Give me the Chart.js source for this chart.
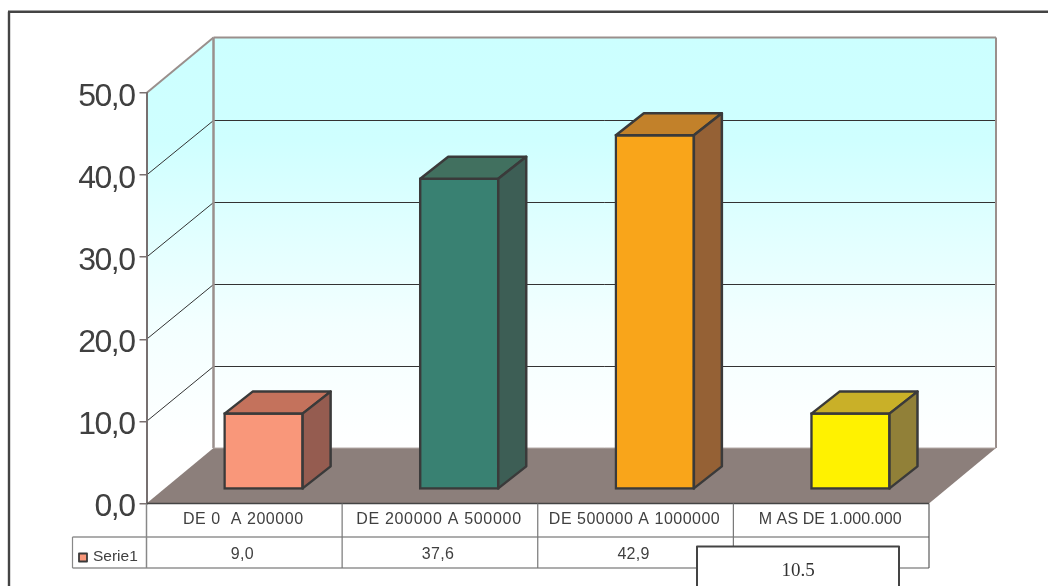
<!DOCTYPE html>
<html>
<head>
<meta charset="utf-8">
<title>Serie1</title>
<script src="https://cdn.jsdelivr.net/npm/chart.js@4"></script>
<style>
  html, body { margin: 0; padding: 0; background: #fff; overflow: hidden; }
  canvas { display: block; }
</style>
</head>
<body>
<canvas id="chart_1" width="1048" height="586"></canvas>
<script>
const categories = ['DE 0  A 200000', 'DE 200000 A 500000', 'DE 500000 A 1000000', 'M AS DE 1.000.000']
const serie_name = 'Serie1'
const serie_values = [9.0, 37.6, 42.9, 9.0]
const note_text = '10.5'

const front_colours = ['#F9977A', '#398172', '#F9A51A', '#FFF200']
const top_colours = ['#C4725C', '#41705F', '#C2812A', '#C9B028']
const side_colours = ['#955C50', '#3D5E55', '#956135', '#918038']

const wall_dx = 67, wall_dy = -55.5   // depth of the box
const bar_dx = 19.3, bar_dy = -17     // bars stand inside the box
const side_dx = 28, side_dy = -22     // depth of a bar
const edge_colour = '#3a3a3a'
const category_spacing = ['0.55px', '0.7px', '0.5px', '0.1px']  // the table text is unevenly tracked

function fmt(v) {
  return v.toFixed(1).replace('.', ',')
}

function poly(ctx, pts, fill, stroke, width) {
  ctx.beginPath()
  pts.forEach(function (p, i) { i ? ctx.lineTo(p[0], p[1]) : ctx.moveTo(p[0], p[1]) })
  ctx.closePath()
  if (fill) { ctx.fillStyle = fill; ctx.fill() }
  if (stroke) { ctx.strokeStyle = stroke; ctx.lineWidth = width; ctx.lineJoin = 'round'; ctx.stroke() }
}

function line(ctx, x1, y1, x2, y2, colour, width) {
  ctx.beginPath()
  ctx.moveTo(x1, y1)
  ctx.lineTo(x2, y2)
  ctx.strokeStyle = colour
  ctx.lineWidth = width
  ctx.stroke()
}

const box_plugin = {
  id: 'box_plugin',
  beforeDraw(chart) {
    const ctx = chart.ctx, a = chart.chartArea, y = chart.scales.y
    ctx.save()
    // outer frame
    line(ctx, 9, 586, 9, 11.7, '#444', 2.4)
    line(ctx, 8, 11.7, 1048, 11.7, '#444', 2.4)

    let grad = ctx.createLinearGradient(0, a.top + wall_dy, 0, a.bottom + wall_dy)
    grad.addColorStop(0, '#CCFFFF')
    grad.addColorStop(0.25, '#CFFFFF')
    grad.addColorStop(0.7, '#F3FFFF')
    grad.addColorStop(1, '#FFFFFF')
    // back wall and left wall
    poly(ctx, [[a.left + wall_dx, a.top + wall_dy], [a.right + wall_dx, a.top + wall_dy],
      [a.right + wall_dx, a.bottom + wall_dy], [a.left + wall_dx, a.bottom + wall_dy]], grad)
    poly(ctx, [[a.left, a.top], [a.left + wall_dx, a.top + wall_dy],
      [a.left + wall_dx, a.bottom + wall_dy], [a.left, a.bottom]], grad)
    // floor
    poly(ctx, [[a.left, a.bottom], [a.right, a.bottom],
      [a.right + wall_dx, a.bottom + wall_dy], [a.left + wall_dx, a.bottom + wall_dy]], '#8C7F7B')

    // grid lines on both walls
    y.ticks.forEach(function (t) {
      if (t.value == 0 || t.value == 50) return
      const py = Math.round(y.getPixelForValue(t.value) + wall_dy) + 0.5
      line(ctx, a.left, y.getPixelForValue(t.value), a.left + wall_dx, py, '#333', 1)
      line(ctx, a.left + wall_dx, py, a.right + wall_dx, py, '#333', 1)
    })

    // wall edges
    const edge = '#9A8F8C'
    line(ctx, a.left, a.top, a.left + wall_dx, a.top + wall_dy, edge, 2)
    line(ctx, a.left + wall_dx, a.top + wall_dy, a.right + wall_dx, a.top + wall_dy, edge, 2)
    line(ctx, a.right + wall_dx, a.top + wall_dy, a.right + wall_dx, a.bottom + wall_dy, edge, 2)
    line(ctx, a.left + wall_dx, a.top + wall_dy, a.left + wall_dx, a.bottom + wall_dy, edge, 2.5)
    line(ctx, a.left + wall_dx, a.bottom + wall_dy, a.right + wall_dx, a.bottom + wall_dy, '#B5ABA8', 1)
    ctx.restore()
    // the tick labels are squeezed in the original
    ctx.letterSpacing = '-1.5px'
  },
  beforeDatasetsDraw(chart) {
    chart.ctx.letterSpacing = '0px'
    chart.ctx.save()
    chart.ctx.translate(bar_dx, bar_dy)
  },
  afterDatasetsDraw(chart) {
    const ctx = chart.ctx
    chart.getDatasetMeta(0).data.forEach(function (bar, i) {
      const l = bar.x - bar.width / 2 + 1, r = bar.x + bar.width / 2 - 1
      const t = bar.y + 1, b = bar.base - 1
      poly(ctx, [[l, t], [l + side_dx, t + side_dy], [r + side_dx, t + side_dy], [r, t]], top_colours[i], edge_colour, 2.5)
      poly(ctx, [[r, t], [r + side_dx, t + side_dy], [r + side_dx, b + side_dy], [r, b]], side_colours[i], edge_colour, 2.5)
    })
    ctx.restore()
  },
  afterDraw(chart) {
    const ctx = chart.ctx, a = chart.chartArea, x = chart.scales.x
    const row1 = a.bottom + 33.5, row2 = a.bottom + 64.5, legend_left = 72.5
    ctx.save()

    // data table under the floor
    const grid_colour = '#5c5c5c'
    line(ctx, a.left, a.bottom, a.right, a.bottom, '#444', 1.5)
    line(ctx, legend_left, row1, a.right, row1, grid_colour, 1.2)
    line(ctx, legend_left, row2, a.right, row2, grid_colour, 1.2)
    line(ctx, legend_left, row1, legend_left, row2, '#888', 1.2)
    line(ctx, a.left, a.bottom, a.left, row2, '#888', 1.5)
    line(ctx, a.right, a.bottom, a.right, row2, grid_colour, 1.2)
    for (let i = 1; i < categories.length; i++) {
      const px = (x.getPixelForValue(i - 1) + x.getPixelForValue(i)) / 2
      line(ctx, px, a.bottom, px, row2, '#777', 1.2)
    }

    ctx.fillStyle = '#404040'
    ctx.textBaseline = 'middle'
    ctx.textAlign = 'center'
    ctx.font = '16px "Liberation Sans"'
    categories.forEach(function (c, i) {
      ctx.letterSpacing = category_spacing[i]
      ctx.fillText(c, x.getPixelForValue(i) - 1, a.bottom + 16.5)
      ctx.letterSpacing = '0.3px'
      ctx.fillText(fmt(serie_values[i]), x.getPixelForValue(i) - 2, a.bottom + 51.5)
    })

    // legend key
    ctx.letterSpacing = '0px'
    poly(ctx, [[79, 553.5], [87, 553.5], [87, 561.5], [79, 561.5]], front_colours[0], edge_colour, 1.8)
    ctx.fillStyle = '#404040'
    ctx.textAlign = 'left'
    ctx.font = '15.5px "Liberation Sans"'
    ctx.fillText(serie_name, 93, a.bottom + 53)

    // note box laid over the table
    ctx.fillStyle = '#fff'
    ctx.fillRect(697, 546.5, 202, 44)
    ctx.strokeStyle = '#444'
    ctx.lineWidth = 2
    ctx.strokeRect(697, 546.5, 202, 44)
    ctx.fillStyle = '#333'
    ctx.textAlign = 'center'
    ctx.textBaseline = 'alphabetic'
    ctx.font = '19px "Liberation Serif"'
    ctx.fillText(note_text, 798, 575.5)
    ctx.restore()
  }
}

const chart1 = new Chart(document.getElementById('chart_1').getContext('2d'), {
  type: 'bar',
  data: {
    labels: categories,
    datasets: [
      {
        label: serie_name,
        data: serie_values,
        backgroundColor: front_colours,
        borderColor: edge_colour,
        borderWidth: 2.5,
        borderSkipped: false,
        barThickness: 80,
        base: -0.35,
        clip: false
      }
    ]
  },
  options: {
    responsive: false,
    animation: false,
    layout: { padding: { left: 0, top: 93, right: 119, bottom: 0 } },
    plugins: { legend: { display: false }, title: { display: false }, tooltip: { enabled: false } },
    scales: {
      x: {
        grid: { display: false },
        border: { display: false },
        ticks: { display: false },
        afterFit: function (scale) { scale.height = 82.5 }
      },
      y: {
        min: 0,
        max: 50,
        afterFit: function (scale) { scale.width = 146.5 },
        grid: { drawOnChartArea: false, drawTicks: true, tickLength: 7, color: '#7a7070', lineWidth: 1.5 },
        border: { display: true, color: '#777070', width: 2 },
        ticks: {
          stepSize: 10,
          padding: 5,
          color: '#404040',
          // the blank first line and short line height push the label 4px below its tick
          font: { family: 'Liberation Sans', size: 32, lineHeight: 0.25 },
          callback: function (v) { return ['', fmt(v)] }
        }
      }
    }
  },
  plugins: [box_plugin]
})
</script>
</body>
</html>
